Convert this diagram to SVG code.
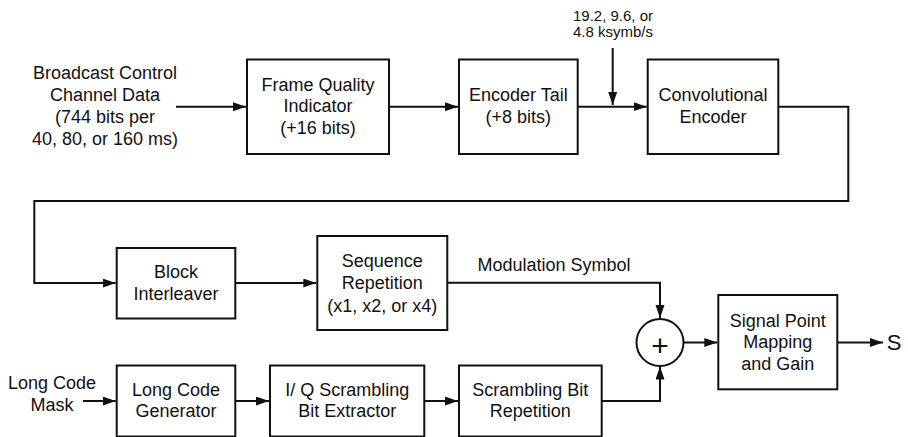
<svg xmlns="http://www.w3.org/2000/svg" width="908" height="437" viewBox="0 0 908 437">
<style>
.box{fill:#fff;stroke:#111;stroke-width:2}
.t{font-family:"Liberation Sans",Arial,Helvetica,sans-serif;font-size:18px;fill:#111;text-anchor:middle}
.s{font-size:15px}
.w{fill:none;stroke:#111;stroke-width:2}
</style>
<defs>
<marker id="ah" markerUnits="userSpaceOnUse" markerWidth="14" markerHeight="10" refX="13" refY="4.5" orient="auto">
<path d="M0,0 L13,4.5 L0,9 z" fill="#111"/>
</marker>
</defs>
<rect width="908" height="437" fill="#fff"/>
<g id="connectors" class="w" marker-end="url(#ah)">
<path d="M176,106.7 H246"/>
<path d="M389,106.7 H458"/>
<path d="M577.7,106.7 H646.7"/>
<path d="M612.7,48 V105"/>
<path d="M778.3,106.7 H848.3 V201 H34.3 V283 H115.7"/>
<path d="M235.3,283 H316.3"/>
<path d="M447.3,282.7 H660 V318"/>
<path d="M83,401 H115.7"/>
<path d="M235.3,401 H269"/>
<path d="M424.3,401 H458"/>
<path d="M601.7,401 H660 V366.5"/>
<path d="M683.5,342.5 H717.3"/>
<path d="M837.3,342.5 H883"/>
</g>
<g id="input">
<text class="t" x="105" y="79">Broadcast Control</text>
<text class="t" x="105" y="101">Channel Data</text>
<text class="t" x="105" y="123">(744 bits per</text>
<text class="t" x="105" y="144.6">40, 80, or 160 ms)</text>
</g>
<g id="fqi">
<rect class="box" x="247" y="59.5" width="142" height="94.5"/>
<text class="t" x="318" y="90.7">Frame Quality</text>
<text class="t" x="318" y="112.4">Indicator</text>
<text class="t" x="318" y="134">(+16 bits)</text>
</g>
<g id="encoder-tail">
<rect class="box" x="459" y="59.5" width="118.7" height="94.5"/>
<text class="t" x="518.3" y="101.2">Encoder Tail</text>
<text class="t" x="518.3" y="123.2">(+8 bits)</text>
</g>
<g id="rate">
<text class="t s" x="613" y="20.7">19.2, 9.6, or</text>
<text class="t s" x="613" y="37.3">4.8 ksymb/s</text>
</g>
<g id="conv-encoder">
<rect class="box" x="647.7" y="59.5" width="130.6" height="94.5"/>
<text class="t" x="713" y="101.2">Convolutional</text>
<text class="t" x="713" y="123.2">Encoder</text>
</g>
<g id="block-interleaver">
<rect class="box" x="116.7" y="248" width="118.6" height="70.5"/>
<text class="t" x="176" y="277.7">Block</text>
<text class="t" x="176" y="299.8">Interleaver</text>
</g>
<g id="sequence-repetition">
<rect class="box" x="317.3" y="236" width="130" height="94"/>
<text class="t" x="382.3" y="266.7">Sequence</text>
<text class="t" x="382.3" y="289.3">Repetition</text>
<text class="t" x="382.3" y="311.7">(x1, x2, or x4)</text>
</g>
<g id="mod-label">
<text class="t" x="554" y="271">Modulation Symbol</text>
</g>
<g id="long-code-mask">
<text class="t" x="52" y="389.3">Long Code</text>
<text class="t" x="52" y="410.7">Mask</text>
</g>
<g id="long-code-generator">
<rect class="box" x="116.7" y="365.5" width="118.6" height="71"/>
<text class="t" x="176" y="395.5">Long Code</text>
<text class="t" x="176" y="417">Generator</text>
</g>
<g id="iq-extractor">
<rect class="box" x="270" y="365.5" width="154.3" height="71"/>
<text class="t" x="347.2" y="395.5">I/ Q Scrambling</text>
<text class="t" x="347.2" y="417">Bit Extractor</text>
</g>
<g id="scrambling-repetition">
<rect class="box" x="459" y="365.5" width="142.7" height="71"/>
<text class="t" x="530.3" y="395.5">Scrambling Bit</text>
<text class="t" x="530.3" y="417">Repetition</text>
</g>
<g id="adder">
<circle cx="660" cy="342.5" r="23.5" fill="#fff" stroke="#111" stroke-width="2"/>
<text class="t" x="660" y="355.5" style="font-size:30px">+</text>
</g>
<g id="signal-point">
<rect class="box" x="718.3" y="295" width="119" height="94.3"/>
<text class="t" x="777.8" y="326.7">Signal Point</text>
<text class="t" x="777.8" y="348.3">Mapping</text>
<text class="t" x="777.8" y="370">and Gain</text>
</g>
<g id="output">
<text class="t" x="894" y="349.5" style="font-size:22px">S</text>
</g>
</svg>
